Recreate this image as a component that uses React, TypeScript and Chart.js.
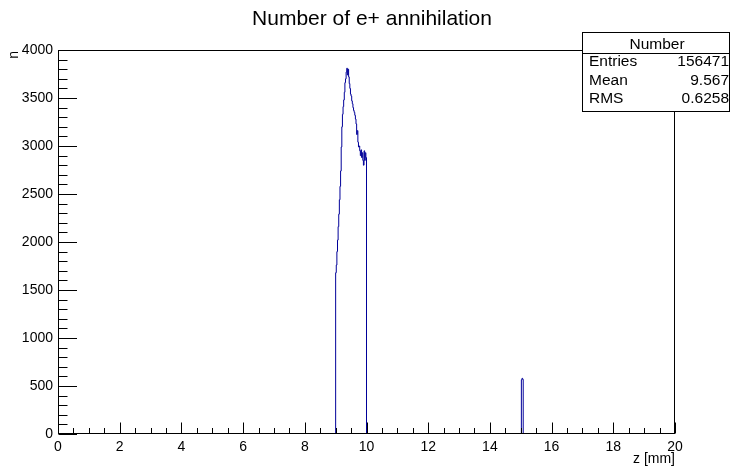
import React, { useEffect, useRef } from 'react';
import { Chart, registerables } from 'chart.js';

Chart.register(...registerables);

// ---- data ----
const TITLE = 'Number of e+ annihilation';
const X_TITLE = 'z [mm]';
const Y_TITLE = 'n';
const X_MIN = 0;
const X_MAX = 20;
const Y_MIN = 0;
const Y_MAX = 4000;
const X_TICK_STEP = 2;
const X_MINOR_STEP = 0.5;
const Y_TICK_STEP = 500;
const Y_MINOR_STEP = 100;
const BIN_WIDTH = 0.02;

// main peak: bins starting at 9.00 mm, width 0.02 mm
const PEAK_START = 9.0;
const peakCounts = [
  1680, 1760, 1900, 2020, 2160, 2290, 2440, 2580, 2740, 2990,
  3200, 3330, 3410, 3480, 3560, 3660, 3700, 3770, 3810, 3740,
  3800, 3720, 3650, 3600, 3540, 3520, 3470, 3440, 3400, 3370,
  3350, 3320, 3280, 3230, 3120, 3160, 3040, 2990, 3000, 2950,
  2900, 2960, 2880, 2930, 2850, 2800, 2950, 2850, 2930, 2880,
];

// small spike near 15 mm
const SPIKE_START = 15.02;
const spikeCounts = [565, 580, 570];

const STATS_NAME = 'Number';
const statsLabels = ['Entries', 'Mean', 'RMS'];
const statsValues = ['156471', '9.567', '0.6258'];

const FONT = '"Liberation Sans", Arial, Helvetica, sans-serif';
const LINE_COLOR = '#000099';

function buildPoints() {
  const pts: { x: number; y: number }[] = [{ x: X_MIN, y: 0 }];
  peakCounts.forEach((c, i) => pts.push({ x: PEAK_START + i * BIN_WIDTH, y: c }));
  pts.push({ x: PEAK_START + peakCounts.length * BIN_WIDTH, y: 0 });
  spikeCounts.forEach((c, i) => pts.push({ x: SPIKE_START + i * BIN_WIDTH, y: c }));
  pts.push({ x: SPIKE_START + spikeCounts.length * BIN_WIDTH, y: 0 });
  pts.push({ x: X_MAX, y: 0 });
  return pts;
}

const rootDecor = {
  id: 'rootDecor',
  afterDraw(chart: any) {
    const { ctx, chartArea: a, scales } = chart;
    const xs = scales.x;
    const ys = scales.y;
    ctx.save();
    ctx.strokeStyle = '#000';
    ctx.lineWidth = 1;
    const L = Math.round(a.left) + 0.5;
    const R = Math.round(a.right) - 0.5;
    const T = Math.round(a.top) + 0.5;
    const B = Math.round(a.bottom) - 0.5;
    // frame
    ctx.strokeRect(L, T, R - L, B - T);
    // x ticks (inside)
    ctx.beginPath();
    for (let v = X_MIN; v <= X_MAX + 1e-9; v += X_MINOR_STEP) {
      const px = Math.round(xs.getPixelForValue(v)) + 0.5;
      const major = Math.abs(v / X_TICK_STEP - Math.round(v / X_TICK_STEP)) < 1e-6;
      const len = major ? 11 : 5.5;
      ctx.moveTo(px, B);
      ctx.lineTo(px, B - len);
    }
    // y ticks (inside)
    for (let v = Y_MIN; v <= Y_MAX + 1e-9; v += Y_MINOR_STEP) {
      const py = Math.round(ys.getPixelForValue(v)) + 0.5;
      const major = Math.abs(v / Y_TICK_STEP - Math.round(v / Y_TICK_STEP)) < 1e-6;
      const len = major ? 18.5 : 9;
      ctx.moveTo(L, py);
      ctx.lineTo(L + len, py);
    }
    ctx.stroke();

    // title
    ctx.fillStyle = '#000';
    ctx.font = `21px ${FONT}`;
    ctx.textAlign = 'center';
    ctx.textBaseline = 'alphabetic';
    ctx.fillText(TITLE, 372, 25);

    // x title
    ctx.font = `14px ${FONT}`;
    ctx.textAlign = 'right';
    ctx.fillText(X_TITLE, a.right, 463);

    // y title (rotated)
    ctx.save();
    ctx.translate(18, a.top + 1);
    ctx.rotate(-Math.PI / 2);
    ctx.textAlign = 'right';
    ctx.fillText(Y_TITLE, 0, 0);
    ctx.restore();

    // stats box
    const bx = 582.5, by = 32.5, bw = 147, bh = 79;
    ctx.fillStyle = '#fff';
    ctx.fillRect(bx, by, bw, bh);
    ctx.strokeRect(bx, by, bw, bh);
    ctx.beginPath();
    ctx.moveTo(bx, 53.5);
    ctx.lineTo(bx + bw, 53.5);
    ctx.stroke();
    ctx.fillStyle = '#000';
    ctx.font = `15.5px ${FONT}`;
    ctx.textAlign = 'center';
    ctx.fillText(STATS_NAME, bx + bw / 2 + 1, 49);
    const rowBase = [66, 85, 103];
    statsLabels.forEach((lab, i) => {
      ctx.textAlign = 'left';
      ctx.fillText(lab, 589, rowBase[i]);
      ctx.textAlign = 'right';
      ctx.fillText(statsValues[i], 729, rowBase[i]);
    });
    ctx.restore();
  },
};

export default function App() {
  const ref = useRef<HTMLCanvasElement | null>(null);
  useEffect(() => {
    if (!ref.current) return;
    const chart = new Chart(ref.current, {
      type: 'line',
      data: {
        datasets: [
          {
            data: buildPoints(),
            stepped: true,
            borderColor: LINE_COLOR,
            borderWidth: 1,
            pointRadius: 0,
            fill: false,
          },
        ],
      },
      options: {
        responsive: false,
        animation: false,
        devicePixelRatio: 1,
        layout: { padding: { left: 0, right: 56, top: 50, bottom: 0 } },
        plugins: {
          legend: { display: false },
          title: { display: false },
          tooltip: { enabled: false },
        },
        scales: {
          x: {
            type: 'linear',
            min: X_MIN,
            max: X_MAX,
            afterFit: (s: any) => { s.height = 36; },
            grid: { display: false, drawTicks: false, tickLength: 0 },
            border: { display: false },
            ticks: {
              stepSize: X_TICK_STEP,
              autoSkip: false,
              maxRotation: 0,
              padding: 5,
              color: '#000',
              font: { family: FONT, size: 14 },
              callback: (v: any) => String(v),
            },
          },
          y: {
            type: 'linear',
            min: Y_MIN,
            max: Y_MAX,
            afterFit: (s: any) => { s.width = 58; },
            grid: { display: false, drawTicks: false, tickLength: 0 },
            border: { display: false },
            ticks: {
              stepSize: Y_TICK_STEP,
              padding: 5,
              color: '#000',
              font: { family: FONT, size: 14 },
              callback: (v: any) => String(v),
            },
          },
        },
      },
      plugins: [rootDecor],
    } as any);
    return () => chart.destroy();
  }, []);
  return (
    <div style={{ position: 'fixed', left: 0, top: 0, width: 731, height: 470, background: '#fff' }}>
      <canvas ref={ref} width={731} height={470} style={{ display: 'block' }} />
    </div>
  );
}
